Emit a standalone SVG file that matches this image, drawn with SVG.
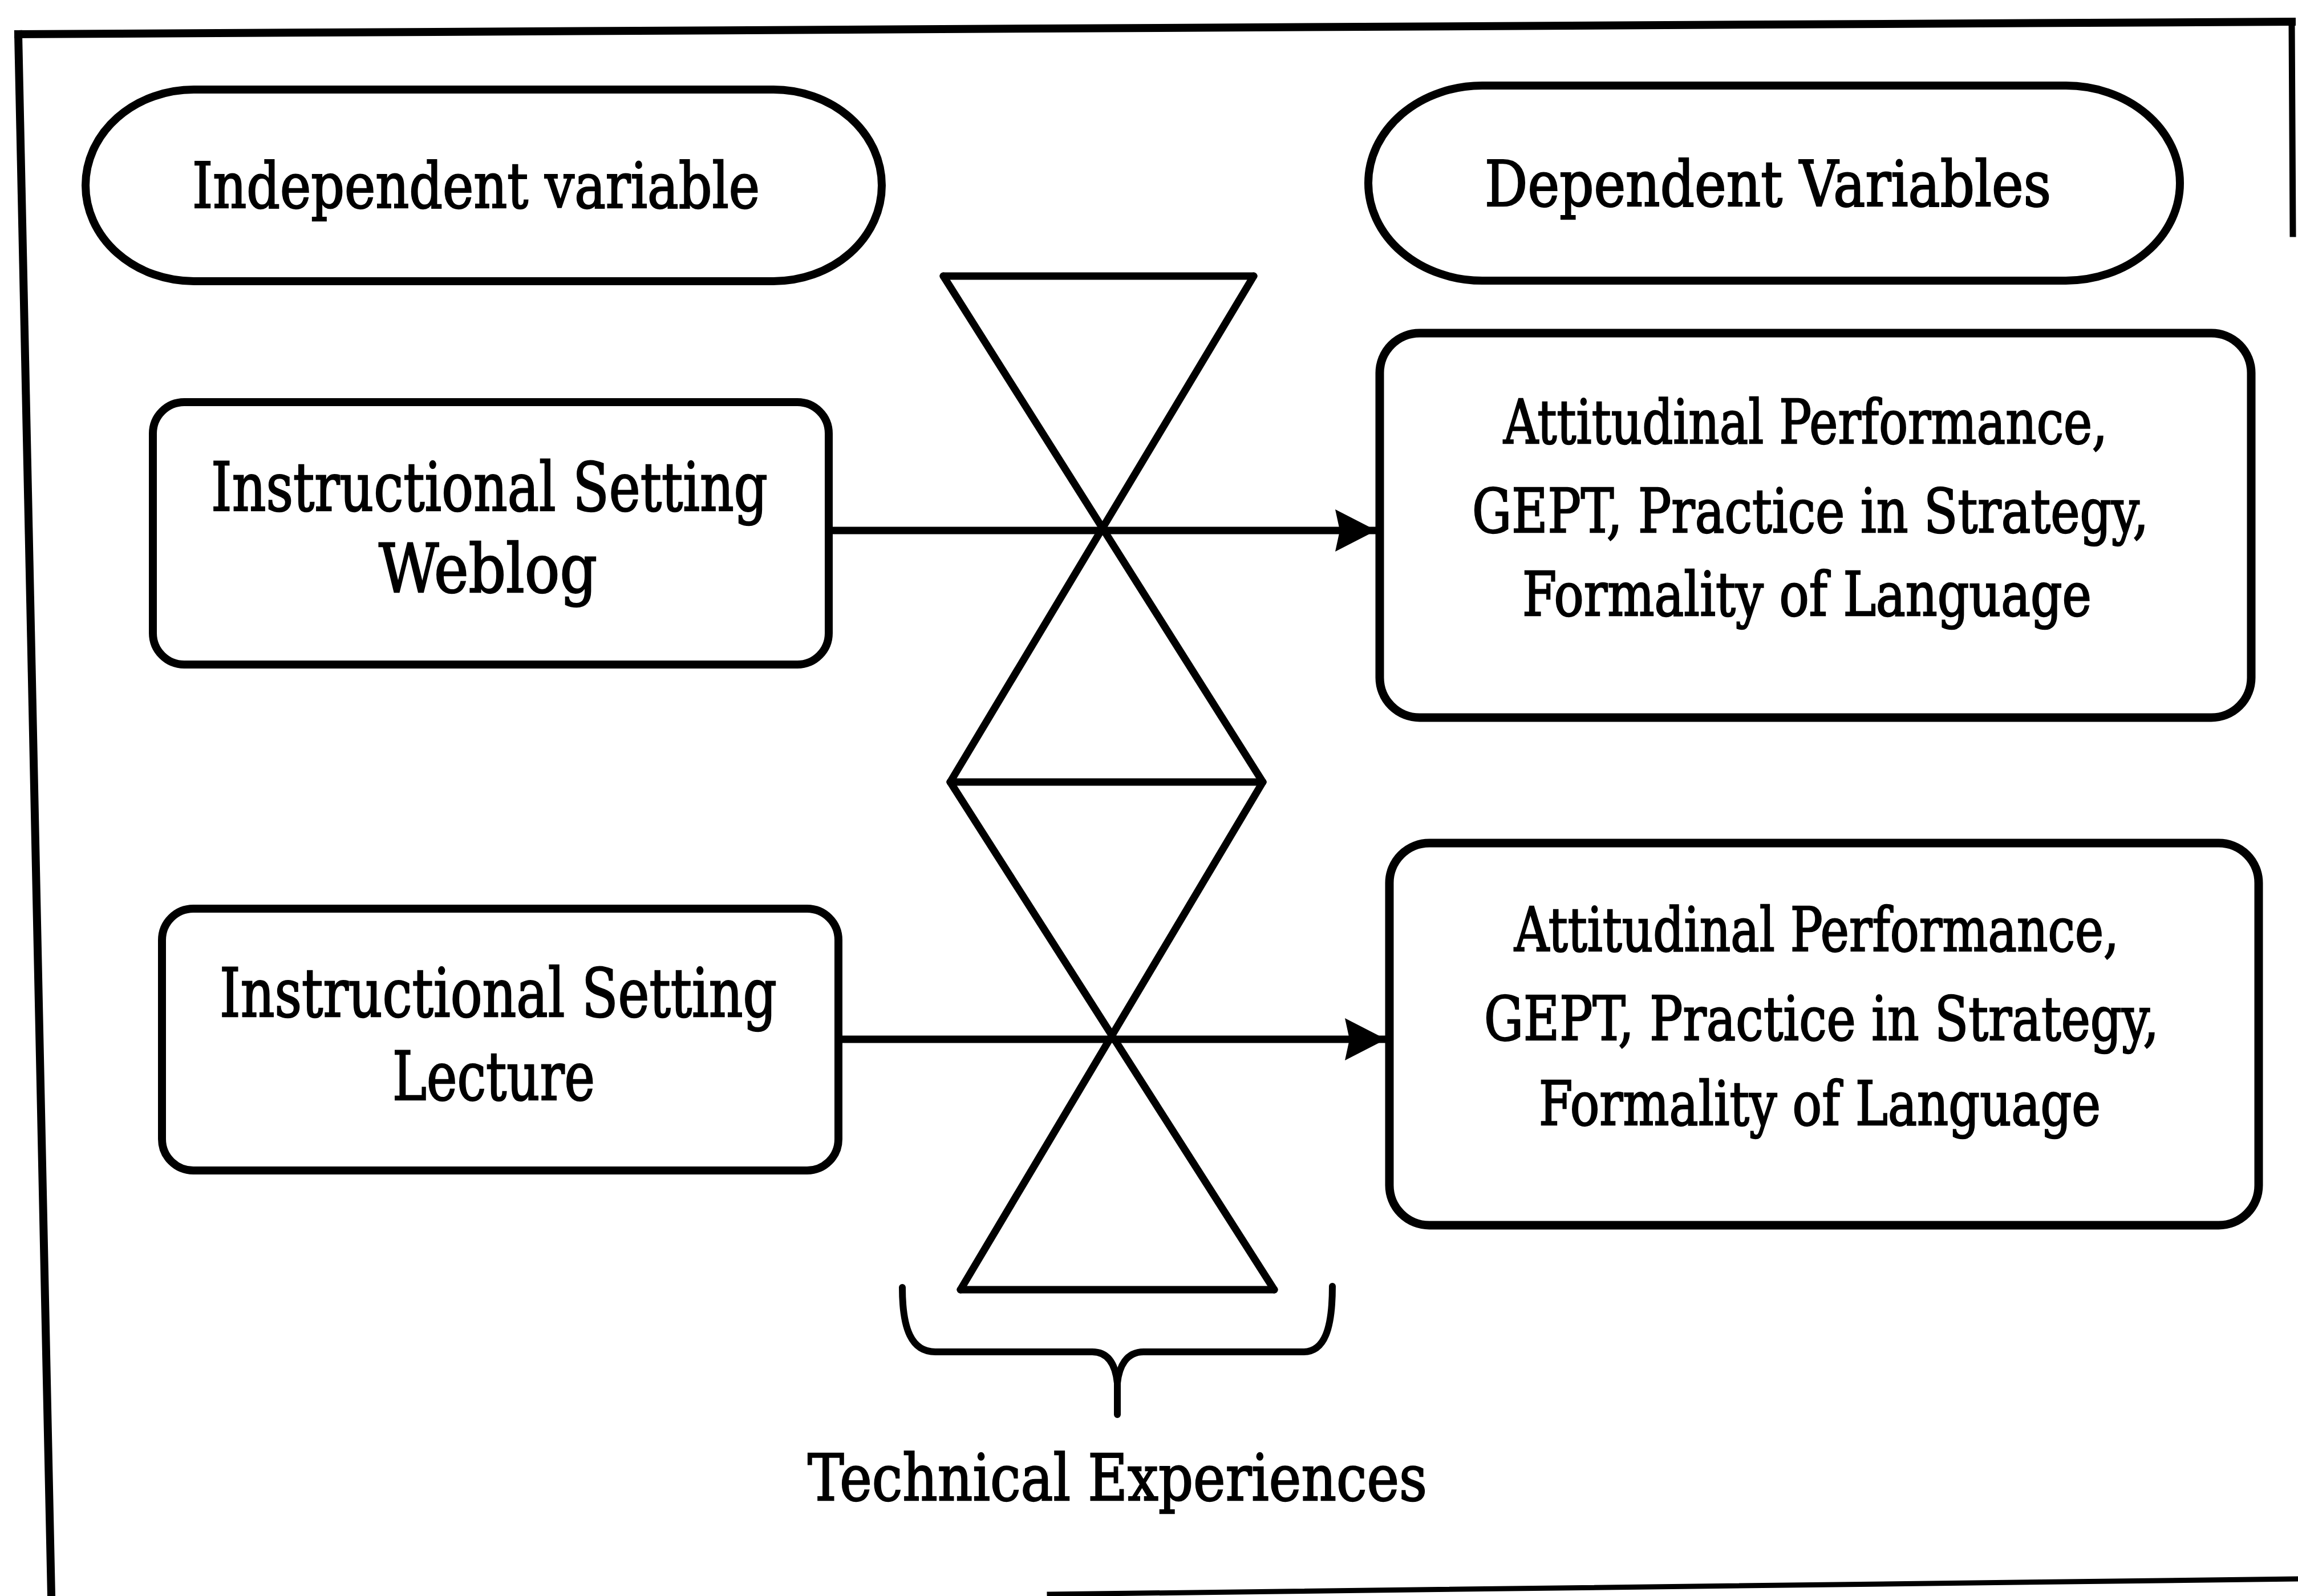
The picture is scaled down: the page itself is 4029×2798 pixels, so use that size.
<svg xmlns="http://www.w3.org/2000/svg" width="4029" height="2798" viewBox="0 0 4029 2798">
<style>
.frame{fill:none;stroke:#000;stroke-width:14;stroke-linecap:square}
.shape{fill:#fff;stroke:#000;stroke-width:14}
.dep{fill:#fff;stroke:#000;stroke-width:15}
.tri{fill:none;stroke:#000;stroke-width:13;stroke-linecap:round}
.conn{fill:none;stroke:#000;stroke-width:13}
.brace{fill:none;stroke:#000;stroke-width:12;stroke-linecap:round;stroke-linejoin:round}
text{font-family:"DejaVu Serif","Liberation Serif",serif;fill:#000;stroke:#000;stroke-width:2.5}
.t1{font-size:110px}
.t2{font-size:118px}
.t3{font-size:106px}
.t4{font-size:112px}
</style>
<defs>
<marker id="arrow" markerUnits="userSpaceOnUse" markerWidth="72" markerHeight="74" viewBox="0 0 72 74" refX="72" refY="37" orient="auto">
<path d="M0,0 L72,37 L0,74 L8,37 z" fill="#000"/>
</marker>
</defs>
<rect x="0" y="0" width="4029" height="2798" fill="#fff"/>
<g id="frame">
<line class="frame" x1="32" y1="60" x2="4018" y2="38"/>
<line class="frame" x1="32" y1="60" x2="90" y2="2798"/>
<line class="frame" x1="4018" y1="38" x2="4020" y2="410" style="stroke-width:11"/>
<line class="frame" x1="1840" y1="2795" x2="4029" y2="2768" style="stroke-width:9"/>
</g>
<g id="hourglass">
<line class="tri" x1="1654" y1="484" x2="2198" y2="484"/>
<line class="tri" x1="1654" y1="484" x2="2214" y2="1371"/>
<line class="tri" x1="2198" y1="484" x2="1666" y2="1371"/>
<line class="tri" x1="1666" y1="1371" x2="2214" y2="1371"/>
<line class="tri" x1="1666" y1="1371" x2="2234" y2="2261"/>
<line class="tri" x1="2214" y1="1371" x2="1684" y2="2261"/>
<line class="tri" x1="1684" y1="2261" x2="2234" y2="2261"/>
</g>
<g id="connectors">
<line class="conn" x1="1453" y1="930" x2="2413" y2="930" marker-end="url(#arrow)"/>
<line class="conn" x1="1470" y1="1822" x2="2430" y2="1822" marker-end="url(#arrow)"/>
</g>
<g id="independent-label">
<rect class="shape" x="150" y="157" width="1396" height="336" rx="190" ry="168"/>
<text class="t1" x="337" y="364" textLength="995" lengthAdjust="spacingAndGlyphs">Independent variable</text>
</g>
<g id="dependent-label">
<rect class="shape" x="2399" y="150" width="1423" height="342" rx="200" ry="171"/>
<text class="t1" x="2603" y="361" textLength="993" lengthAdjust="spacingAndGlyphs">Dependent Variables</text>
</g>
<g id="weblog">
<rect class="shape" x="268" y="705" width="1185" height="460" rx="55" ry="55"/>
<text class="t2" x="370" y="895" textLength="976" lengthAdjust="spacingAndGlyphs">Instructional Setting</text>
<text class="t2" x="664" y="1038" textLength="383" lengthAdjust="spacingAndGlyphs">Weblog</text>
</g>
<g id="lecture">
<rect class="shape" x="284" y="1593" width="1186" height="459" rx="55" ry="55"/>
<text class="t2" x="385" y="1782" textLength="977" lengthAdjust="spacingAndGlyphs">Instructional Setting</text>
<text class="t2" x="688" y="1928" textLength="355" lengthAdjust="spacingAndGlyphs">Lecture</text>
</g>
<g id="outcomes-weblog">
<rect class="dep" x="2419" y="584" width="1528" height="674" rx="70" ry="70"/>
<text class="t3" x="2636" y="777" textLength="1059" lengthAdjust="spacingAndGlyphs">Attitudinal Performance,</text>
<text class="t3" x="2581" y="933" textLength="1186" lengthAdjust="spacingAndGlyphs">GEPT, Practice in Strategy,</text>
<text class="t3" x="2669" y="1079" textLength="998" lengthAdjust="spacingAndGlyphs">Formality of Language</text>
</g>
<g id="outcomes-lecture">
<rect class="dep" x="2436" y="1478" width="1524" height="670" rx="70" ry="70"/>
<text class="t3" x="2655" y="1667" textLength="1060" lengthAdjust="spacingAndGlyphs">Attitudinal Performance,</text>
<text class="t3" x="2602" y="1823" textLength="1183" lengthAdjust="spacingAndGlyphs">GEPT, Practice in Strategy,</text>
<text class="t3" x="2698" y="1972" textLength="985" lengthAdjust="spacingAndGlyphs">Formality of Language</text>
</g>
<g id="technical-experiences">
<path class="brace" d="M1582,2257 C1582,2330 1598,2370 1640,2370 L1915,2370 C1945,2370 1956,2395 1959,2425 L1959,2480"/>
<path class="brace" d="M2336,2255 C2336,2330 2322,2370 2285,2370 L2005,2370 C1975,2370 1962,2395 1959,2425"/>
<text class="t4" x="1416" y="2630" textLength="1086" lengthAdjust="spacingAndGlyphs">Technical Experiences</text>
</g>
</svg>
